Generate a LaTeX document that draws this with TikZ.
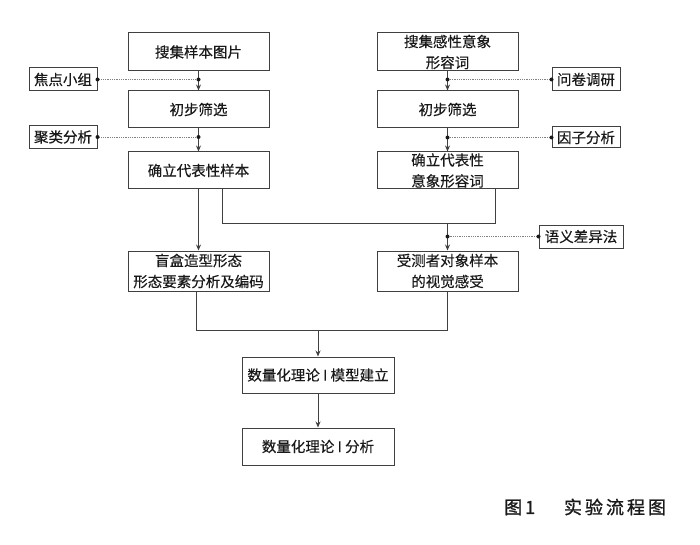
\documentclass[tikz,border=0pt]{standalone}
\usepackage{fontspec}
\newfontfamily\cjk[FakeBold=0.35]{Noto Sans CJK SC}
\newfontfamily\capfont[FakeBold=1.2]{Noto Sans CJK SC}
\usetikzlibrary{arrows.meta,calc}
\begin{document}
\begin{tikzpicture}[x=1pt,y=-1pt,
  every node/.style={font=\cjk\fontsize{14.5}{21}\selectfont, text=black!90, inner sep=0pt, align=center},
  mainbox/.style={draw=black!75, line width=1pt, minimum width=141pt, minimum height=38pt},
  sidebox/.style={draw=black!75, line width=1pt, minimum width=68pt, minimum height=23pt},
  conn/.style={draw=black!75, line width=0.9pt},
  arr/.style={conn, -{Stealth[length=6pt,width=5pt]}},
  dotl/.style={draw=black!50, line width=0.8pt, densely dotted},
  blob/.style={circle, fill=black!90, minimum size=4pt, inner sep=0pt}
]
\useasboundingbox (0,0) rectangle (700,545);

% left column
\node[mainbox] (b1) at (198.5,52) {搜集样本图片};
\node[mainbox, minimum height=37pt] (b2) at (198.5,109.5) {初步筛选};
\node[mainbox, minimum height=37pt] (b3) at (198.5,170.5) {确立代表性样本};
\node[mainbox, minimum height=40pt] (b4) at (198.5,271) {盲盒造型形态\\形态要素分析及编码};

% right column
\node[mainbox] (r1) at (447.5,52) {搜集感性意象\\形容词};
\node[mainbox, minimum height=37pt] (r2) at (447.5,109.5) {初步筛选};
\node[mainbox, minimum height=37pt] (r3) at (447.5,170.5) {确立代表性\\意象形容词};
\node[mainbox, minimum height=40pt] (r4) at (447.5,271) {受测者对象样本\\的视觉感受};

% bottom
\node[mainbox, minimum width=152pt, minimum height=36pt] (m1) at (318,375) {数量化理论 I 模型建立};
\node[mainbox, minimum width=152pt, minimum height=37pt] (m2) at (318,446.5) {数量化理论 I 分析};

% side boxes
\node[sidebox] (s1) at (63,79.5) {焦点小组};
\node[sidebox] (s2) at (63,137) {聚类分析};
\node[sidebox] (s3) at (586,79.5) {问卷调研};
\node[sidebox, minimum height=21pt] (s4) at (586,137.5) {因子分析};
\node[sidebox, minimum width=84pt] (s5) at (581,236.5) {语义差异法};

% main arrows
\draw[arr] (b1) -- (b2);
\draw[arr] (b2) -- (b3);
\draw[arr] (b3) -- (b4);
\draw[arr] (r1) -- (r2);
\draw[arr] (r2) -- (r3);

% side dotted connections
\coordinate (p1) at (b1.south |- s1);
\coordinate (p2) at (b2.south |- s2);
\coordinate (p3) at (r1.south |- s3);
\coordinate (p4) at (r2.south |- s4);
\draw[dotl] (s1.east) -- (p1);
\draw[dotl] (s2.east) -- (p2);
\draw[dotl] (s3.west) -- (p3);
\draw[dotl] (s4.west) -- (p4);
\node[blob] at (s1.east) {}; \node[blob] at (p1) {};
\node[blob] at (s2.east) {}; \node[blob] at (p2) {};
\node[blob] at (s3.west) {}; \node[blob] at (p3) {};
\node[blob] at (s4.west) {}; \node[blob] at (p4) {};

% junction between b3 and r3
\coordinate (jl) at (222,223);
\coordinate (jr) at (495,223);
\coordinate (jm) at (447.5,223);
\draw[conn] (b3.south -| jl) -- (jl) -- (jr) -- (r3.south -| jr);
\draw[arr] (jm) -- (r4.north);
\coordinate (p5) at (r4.north |- s5);
\draw[dotl] (s5.west) -- (p5);
\node[blob] at (s5.west) {}; \node[blob] at (p5) {};

% junction between b4 and r4
\coordinate (kl) at (196,330);
\coordinate (kr) at (447.5,330);
\coordinate (km) at (318,330);
\draw[conn] (b4.south -| kl) -- (kl) -- (kr) -- (r4.south);
\draw[arr] (km) -- (m1.north);
\draw[arr] (m1) -- (m2);

% caption
\node[font=\capfont\fontsize{18}{20}\selectfont, anchor=west] (cap) at (504,507) {图\,1\hspace{1.6em}实\,验\,流\,程\,图};
\end{tikzpicture}
\end{document}
